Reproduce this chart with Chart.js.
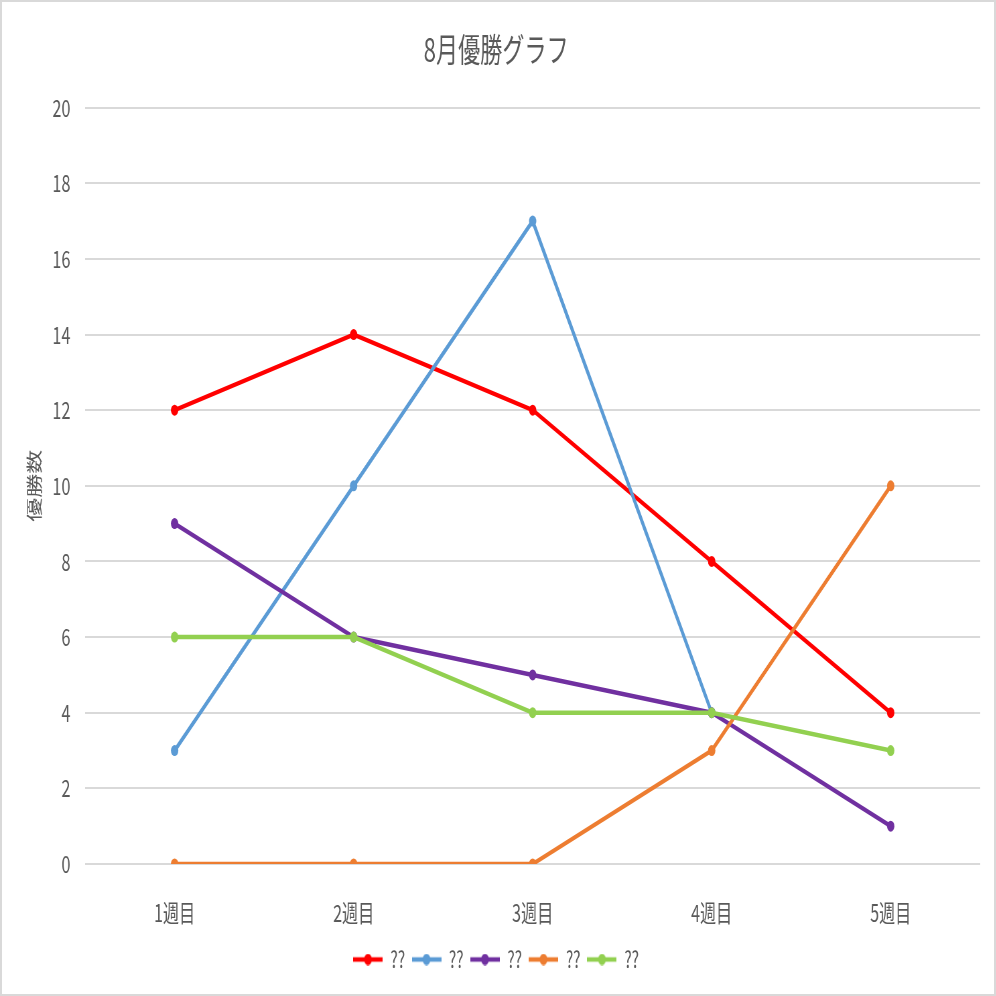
<!DOCTYPE html>
<html>
<head>
<meta charset="utf-8">
<script src="https://cdn.jsdelivr.net/npm/chart.js@4"></script>
<style>
  body { margin: 0; background: #fff; }
  #frame { position: relative; width: 996px; height: 996px; overflow: hidden; }
  #wrap { position: absolute; left: 0; top: 0; width: 1487px; height: 996px;
          transform: scaleX(0.67); transform-origin: 0 0; }
  #border { position: absolute; inset: 0; border: 2px solid #d9d9d9; pointer-events: none; }
</style>
</head>
<body>
<div id="frame">
  <div id="wrap"><canvas id="chart"></canvas></div>
  <div id="border"></div>
</div>
<script>
// data
const weeks = ["1週目", "2週目", "3週目", "4週目", "5週目"];
const seriesNames = ["??", "??", "??", "??", "??"];
const redWins = [12, 14, 12, 8, 4];
const blueWins = [3, 10, 17, 4, null];
const purpleWins = [9, 6, 5, 4, 1];
const orangeWins = [0, 0, 0, 3, 10];
const greenWins = [6, 6, 4, 4, 3];
const yTicks = [0, 2, 4, 6, 8, 10, 12, 14, 16, 18, 20];

const colors = ["#FF0000", "#5B9BD5", "#7030A0", "#ED7D31", "#92D050"];
const values = [redWins, blueWins, purpleWins, orangeWins, greenWins];
const TEXT = "#595959";
const FONT = "'Noto Sans CJK JP', 'Noto Sans', sans-serif";

// legend swatch: short line with a dot in the middle
function swatch(color) {
  const c = document.createElement("canvas");
  c.width = 44;
  c.height = 12;
  const g = c.getContext("2d");
  g.strokeStyle = color;
  g.lineWidth = 4.5;
  g.beginPath();
  g.moveTo(0, 6);
  g.lineTo(44, 6);
  g.stroke();
  g.fillStyle = color;
  g.beginPath();
  g.arc(22, 6, 5.8, 0, Math.PI * 2);
  g.fill();
  return c;
}
const swatches = colors.map(swatch);

const datasets = values.map((v, i) => ({
  label: seriesNames[i],
  data: v,
  borderColor: colors[i],
  backgroundColor: colors[i],
  borderWidth: 4.5,
  pointRadius: 5.5,
  pointBorderWidth: 0,
  tension: 0,
  spanGaps: false,
  order: values.length - i, // last series drawn on top
}));

new Chart(document.getElementById("chart"), {
  type: "line",
  data: { labels: weeks, datasets },
  options: {
    responsive: true,
    maintainAspectRatio: false,
    animation: false,
    layout: { padding: { left: 18, right: 24, top: 0, bottom: 15 } },
    plugins: {
      tooltip: { enabled: false },
      title: {
        display: true,
        text: "8月優勝グラフ",
        color: TEXT,
        font: { family: FONT, size: 33, weight: "normal" },
        padding: { top: 30, bottom: 38 },
      },
      legend: {
        position: "bottom",
        labels: {
          color: TEXT,
          font: { family: FONT, size: 23 },
          usePointStyle: true,
          pointStyleWidth: 44,
          padding: 10,
          sort: (a, b) => a.datasetIndex - b.datasetIndex,
          generateLabels(chart) {
            const items = Chart.defaults.plugins.legend.labels.generateLabels(chart);
            items.forEach((it) => { it.pointStyle = swatches[it.datasetIndex]; });
            return items;
          },
        },
      },
    },
    scales: {
      x: {
        offset: true,
        grid: { display: false },
        border: { display: false },
        ticks: { color: TEXT, font: { family: FONT, size: 24 }, padding: 26 },
        afterFit(scale) { scale.height = 74; },
      },
      y: {
        min: 0,
        max: 20,
        afterBuildTicks(scale) { scale.ticks = yTicks.map((v) => ({ value: v })); },
        grid: { color: "#d9d9d9", lineWidth: 2, drawTicks: false },
        border: { display: false },
        ticks: { color: TEXT, font: { family: FONT, size: 24 }, padding: 22 },
        title: {
          display: true,
          text: "優勝数",
          color: TEXT,
          font: { family: FONT, size: 24 },
          padding: { top: 18, bottom: 0 },
        },
        afterFit(scale) { scale.width = 109; },
      },
    },
  },
});
</script>
</body>
</html>
